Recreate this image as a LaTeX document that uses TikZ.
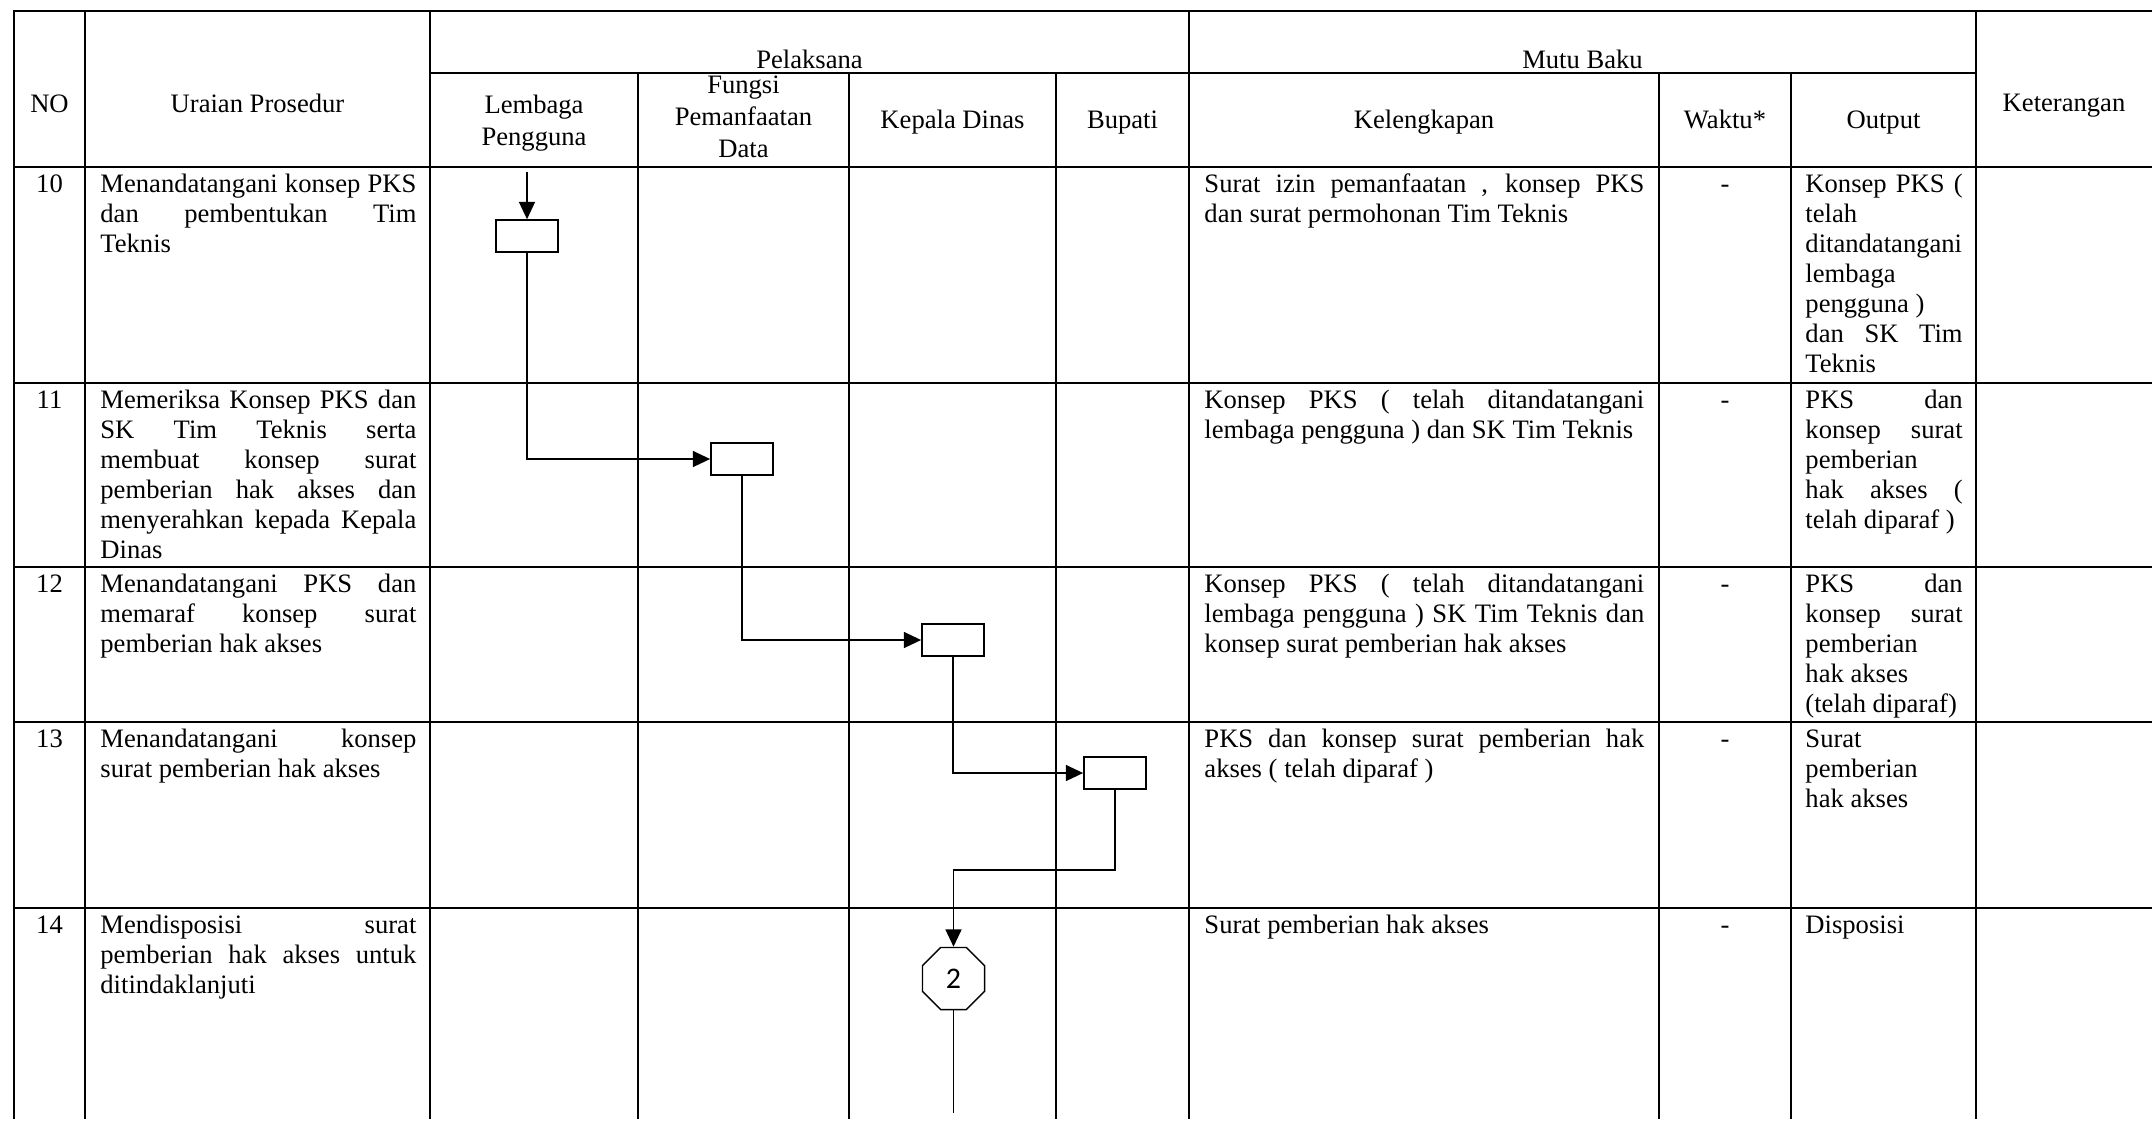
\documentclass[tikz,border=0pt]{standalone}
\usepackage{fontspec}
\setmainfont{Liberation Serif}
\newfontfamily\octfont{Carlito}
\usetikzlibrary{arrows.meta,shapes.geometric}
\newcommand\cellbox[2]{\parbox[t]{#1}{\tolerance=10000\hyphenpenalty=10000\exhyphenpenalty=10000 #2}}
\begin{document}
\begin{tikzpicture}[x=0.451pt,y=-0.451pt,
  grid/.style={line width=1.05pt,line cap=rect},
  flow/.style={line width=0.75pt,-{Triangle[length=7.8pt,width=7.2pt]}},
  flowline/.style={line width=0.75pt},
  actbox/.style={draw,line width=0.75pt,minimum width=28pt,minimum height=14.4pt,inner sep=0pt},
  conn/.style={draw,regular polygon,regular polygon sides=8,minimum size=30.3pt,inner sep=0pt,line width=0.65pt,font=\octfont\fontsize{13.5pt}{15pt}\selectfont},
  txt/.style={inner sep=0pt,anchor=base,font=\fontsize{12pt}{13.53pt}\selectfont},
  hdr/.style={inner sep=0pt,anchor=base,font=\fontsize{12pt}{14.6pt}\selectfont},
  cellw/.style={inner sep=0pt,anchor=base west,font=\fontsize{12pt}{13.53pt}\selectfont}]
\useasboundingbox (0,0) rectangle (2152,1120);
\fill[white] (0,0) rectangle (2152,1120);

% table grid
\draw[grid] (14,11) -- (2152,11);
\draw[grid] (430,73) -- (1976,73);
\foreach \y in {167,383,567,722,908} \draw[grid] (14,\y) -- (2152,\y);
\foreach \x in {14,85,430,1189,1976} \draw[grid] (\x,11) -- (\x,1118);
\foreach \x in {638,849,1056,1659,1791} \draw[grid] (\x,73) -- (\x,1118);

% header
\node[txt] (hPel) at (809.5,68) {Pelaksana};
\node[txt] (hMutu) at (1582.5,68) {Mutu Baku};
\node[txt] (hNo) at (49.5,112) {NO};
\node[txt] (hUr) at (257.5,112) {Uraian Prosedur};
\node[txt] (hKet) at (2064,111) {Keterangan};
\node[hdr] (hLem) at (534,113) {\parbox[t]{90pt}{\centering Lembaga\\Pengguna}};
\node[hdr] (hFun) at (743.5,93) {\parbox[t]{90pt}{\centering Fungsi\\Pemanfaatan\\Data}};
\node[txt] (hKep) at (952.5,128) {Kepala Dinas};
\node[txt] (hBup) at (1122.5,128) {Bupati};
\node[txt] (hKel) at (1424,128) {Kelengkapan};
\node[txt] (hWak) at (1725,128) {Waktu*};
\node[txt] (hOut) at (1883.5,128) {Output};

% row 10
\node[txt] (n10) at (49.5,192) {10};
\node[cellw] (u10) at (100,192) {\cellbox{142.5pt}{Menandatangani konsep PKS\linebreak dan pembentukan Tim\linebreak Teknis}};
\node[cellw] (k10) at (1204,192) {\cellbox{198.4pt}{Surat izin pemanfaatan , konsep PKS\linebreak dan surat permohonan Tim Teknis}};
\node[txt] (w10) at (1725,192) {-};
\node[cellw] (o10) at (1805,192) {\cellbox{70.9pt}{Konsep PKS (\linebreak telah\\ditandatangani\\lembaga\\pengguna )\\dan SK Tim\linebreak Teknis}};

% row 11
\node[txt] (n11) at (49.5,408) {11};
\node[cellw] (u11) at (100,408) {\cellbox{142.5pt}{Memeriksa Konsep PKS dan\linebreak SK Tim Teknis serta\linebreak membuat konsep surat\linebreak pemberian hak akses dan\linebreak menyerahkan kepada Kepala\linebreak Dinas}};
\node[cellw] (k11) at (1204,408) {\cellbox{198.4pt}{Konsep PKS ( telah ditandatangani\linebreak lembaga pengguna ) dan SK Tim Teknis}};
\node[txt] (w11) at (1725,408) {-};
\node[cellw] (o11) at (1805,408) {\cellbox{70.9pt}{PKS dan\linebreak konsep surat\linebreak pemberian\\hak akses (\linebreak telah diparaf )}};

% row 12
\node[txt] (n12) at (49.5,592) {12};
\node[cellw] (u12) at (100,592) {\cellbox{142.5pt}{Menandatangani PKS dan\linebreak memaraf konsep surat\linebreak pemberian hak akses}};
\node[cellw] (k12) at (1204,592) {\cellbox{198.4pt}{Konsep PKS ( telah ditandatangani\linebreak lembaga pengguna ) SK Tim Teknis dan\linebreak konsep surat pemberian hak akses}};
\node[txt] (w12) at (1725,592) {-};
\node[cellw] (o12) at (1805,592) {\cellbox{70.9pt}{PKS dan\linebreak konsep surat\linebreak pemberian\\hak akses\\(telah diparaf)}};

% row 13
\node[txt] (n13) at (49.5,747) {13};
\node[cellw] (u13) at (100,747) {\cellbox{142.5pt}{Menandatangani konsep\linebreak surat pemberian hak akses}};
\node[cellw] (k13) at (1204,747) {\cellbox{198.4pt}{PKS dan konsep surat pemberian hak\linebreak akses ( telah diparaf )}};
\node[txt] (w13) at (1725,747) {-};
\node[cellw] (o13) at (1805,747) {\cellbox{70.9pt}{Surat\\pemberian\\hak akses}};

% row 14
\node[txt] (n14) at (49.5,933) {14};
\node[cellw] (u14) at (100,933) {\cellbox{142.5pt}{Mendisposisi surat\linebreak pemberian hak akses untuk\linebreak ditindaklanjuti}};
\node[cellw] (k14) at (1204,933) {\cellbox{198.4pt}{Surat pemberian hak akses}};
\node[txt] (w14) at (1725,933) {-};
\node[cellw] (o14) at (1805,933) {\cellbox{70.9pt}{Disposisi}};

% flow
\coordinate (start) at (527,172);
\node[actbox] (b1) at (527,236) {};
\node[actbox] (b2) at (742,459) {};
\node[actbox] (b3) at (953,640) {};
\node[actbox] (b4) at (1115,773) {};
\node[conn] (oct) at (953.5,978.5) {2};
\coordinate (kink) at (0,870);
\coordinate (bot) at (0,1113);

\draw[flow] (start) -- (b1.north);
\draw[flow] (b1.south) |- (b2.west);
\draw[flow] (b2.south) |- (b3.west);
\draw[flow] (b3.south) |- (b4.west);
\draw[flow] (b4.south) -- (b4.south |- kink) -| (oct.north);
\draw[flowline] (oct.south) -- (oct.south |- bot);
\end{tikzpicture}
\end{document}
